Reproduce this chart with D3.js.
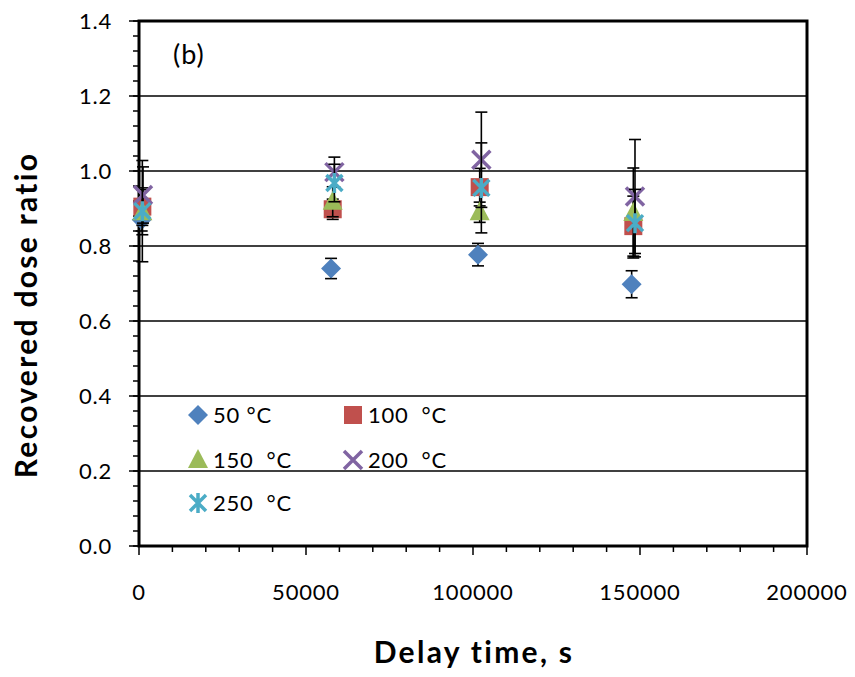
<!DOCTYPE html>
<html>
<head>
<meta charset="utf-8">
<script src="https://cdn.jsdelivr.net/npm/d3@7"></script>
<style>
  body { margin: 0; background: #fff; }
  svg { font-family: Lato, "Open Sans", sans-serif; }
</style>
</head>
<body>
<svg id="chart" width="855" height="677"></svg>
<script>
// delay times (s) per series
const times50 = [800, 57500, 101500, 147500];
const times100 = [1000, 58000, 102000, 148000];
const times150 = [1000, 58000, 102000, 148000];
const times200 = [1200, 58500, 102500, 148500];
const times250 = [1000, 58500, 102500, 148500];

// recovered dose ratios
const ratio50 = [0.87, 0.74, 0.777, 0.698];
const ratio100 = [0.905, 0.898, 0.957, 0.853];
const ratio150 = [0.89, 0.918, 0.89, 0.888];
const ratio200 = [0.936, 0.997, 1.03, 0.932];
const ratio250 = [0.893, 0.968, 0.955, 0.861];

// error bar half-widths
const err50 = [0.03, 0.027, 0.03, 0.036];
const err100 = [0.05, 0.027, 0.05, 0.08];
const err150 = [0.06, 0.04, 0.027, 0.12];
const err200 = [0.075, 0.04, 0.127, 0.152];
const err250 = [0.135, 0.05, 0.12, 0.09];

const seriesNames = ["50 \u00b0C", "100  \u00b0C", "150  \u00b0C", "200  \u00b0C", "250  \u00b0C"];
const seriesColors = ["#4F81BD", "#C0504D", "#9BBB59", "#8064A2", "#4BACC6"];
const seriesShapes = ["diamond", "square", "triangle", "x", "star"];

const xTicks = [0, 50000, 100000, 150000, 200000];
const yTicks = [0, 0.2, 0.4, 0.6, 0.8, 1.0, 1.2, 1.4];

const series = [
  { t: times50, v: ratio50, e: err50 },
  { t: times100, v: ratio100, e: err100 },
  { t: times150, v: ratio150, e: err150 },
  { t: times200, v: ratio200, e: err200 },
  { t: times250, v: ratio250, e: err250 }
].map((s, i) => ({
  name: seriesNames[i],
  color: seriesColors[i],
  shape: seriesShapes[i],
  points: s.t.map((t, j) => ({ t: t, v: s.v[j], e: s.e[j] }))
}));

const plotL = 139, plotR = 807, plotT = 21, plotB = 546;

const svg = d3.select("#chart");

const x = d3.scaleLinear().domain([0, 200000]).range([plotL, plotR]);
const y = d3.scaleLinear().domain([0, 1.4]).range([plotB, plotT]);

// gridlines
svg.append("g")
  .selectAll("line")
  .data(yTicks.filter((d) => d > 0 && d < 1.4))
  .enter()
  .append("line")
  .attr("x1", plotL)
  .attr("x2", plotR)
  .attr("y1", (d) => y(d))
  .attr("y2", (d) => y(d))
  .attr("stroke", "#000")
  .attr("stroke-width", 1.6);

// minor ticks
const yMinor = d3.range(0, 1.4001, 0.04);
svg.append("g")
  .selectAll("line")
  .data(yMinor)
  .enter()
  .append("line")
  .attr("x1", plotL - 6)
  .attr("x2", plotL)
  .attr("y1", (d) => y(d))
  .attr("y2", (d) => y(d))
  .attr("stroke", "#000")
  .attr("stroke-width", 1.5);

const xMinor = d3.range(0, 200001, 10000);
svg.append("g")
  .selectAll("line")
  .data(xMinor)
  .enter()
  .append("line")
  .attr("x1", (d) => x(d))
  .attr("x2", (d) => x(d))
  .attr("y1", plotB)
  .attr("y2", (d) => (d % 50000 === 0 ? plotB + 9 : plotB + 6))
  .attr("stroke", "#000")
  .attr("stroke-width", 1.5);

// major y ticks
svg.append("g")
  .selectAll("line")
  .data(yTicks)
  .enter()
  .append("line")
  .attr("x1", plotL - 10)
  .attr("x2", plotL)
  .attr("y1", (d) => y(d))
  .attr("y2", (d) => y(d))
  .attr("stroke", "#000")
  .attr("stroke-width", 1.5);

// plot border
svg.append("rect")
  .attr("x", plotL)
  .attr("y", plotT)
  .attr("width", plotR - plotL)
  .attr("height", plotB - plotT)
  .attr("fill", "none")
  .attr("stroke", "#000")
  .attr("stroke-width", 3);

// tick labels
svg.append("g")
  .selectAll("text")
  .data(yTicks)
  .enter()
  .append("text")
  .attr("x", 112)
  .attr("y", (d) => y(d) + 8)
  .attr("text-anchor", "end")
  .attr("font-size", 22)
  .attr("letter-spacing", 0.8)
  .text((d) => d3.format(".1f")(d));

svg.append("g")
  .selectAll("text")
  .data(xTicks)
  .enter()
  .append("text")
  .attr("x", (d) => x(d))
  .attr("y", 600)
  .attr("text-anchor", "middle")
  .attr("font-size", 22)
  .attr("letter-spacing", 0.8)
  .text((d) => d);

// axis titles
svg.append("text")
  .attr("transform", "translate(37,315) rotate(-90)")
  .attr("text-anchor", "middle")
  .attr("font-size", 30)
  .attr("font-weight", "bold")
  .attr("letter-spacing", 2.3)
  .text("Recovered dose ratio");

svg.append("text")
  .attr("x", 474)
  .attr("y", 663)
  .attr("text-anchor", "middle")
  .attr("font-size", 30)
  .attr("font-weight", "bold")
  .attr("letter-spacing", 2.3)
  .text("Delay time, s");

svg.append("text")
  .attr("x", 173)
  .attr("y", 64)
  .attr("font-size", 27)
  .attr("letter-spacing", 1)
  .text("(b)");

function drawMarker(g, shape, color, cx, cy) {
  if (shape === "diamond") {
    g.append("path")
      .attr("d", `M${cx},${cy - 10}L${cx + 10},${cy}L${cx},${cy + 10}L${cx - 10},${cy}Z`)
      .attr("fill", color);
  } else if (shape === "square") {
    g.append("rect")
      .attr("x", cx - 9).attr("y", cy - 9)
      .attr("width", 18).attr("height", 18)
      .attr("fill", color);
  } else if (shape === "triangle") {
    g.append("path")
      .attr("d", `M${cx},${cy - 11}L${cx + 10},${cy + 8}L${cx - 10},${cy + 8}Z`)
      .attr("fill", color);
  } else if (shape === "x") {
    g.append("path")
      .attr("d", `M${cx - 9},${cy - 9}L${cx + 9},${cy + 9}M${cx - 9},${cy + 9}L${cx + 9},${cy - 9}`)
      .attr("stroke", color)
      .attr("stroke-width", 3.5);
  } else {
    g.append("path")
      .attr("d", `M${cx - 8},${cy - 8}L${cx + 8},${cy + 8}M${cx - 8},${cy + 8}L${cx + 8},${cy - 8}M${cx},${cy - 10}L${cx},${cy + 10}`)
      .attr("stroke", color)
      .attr("stroke-width", 3.5);
  }
}

// error bars and markers
series.forEach((s) => {
  const g = svg.append("g");
  s.points.forEach((p) => {
    const cx = x(p.t);
    g.append("line")
      .attr("x1", cx).attr("x2", cx)
      .attr("y1", y(p.v + p.e)).attr("y2", y(p.v - p.e))
      .attr("stroke", "#000").attr("stroke-width", 1.6);
    [p.v + p.e, p.v - p.e].forEach((val) => {
      g.append("line")
        .attr("x1", cx - 6).attr("x2", cx + 6)
        .attr("y1", y(val)).attr("y2", y(val))
        .attr("stroke", "#000").attr("stroke-width", 1.6);
    });
  });
  s.points.forEach((p) => drawMarker(g, s.shape, s.color, x(p.t), y(p.v)));
});

// legend
const legendPos = [[198, 415], [353, 415], [198, 460], [353, 460], [198, 503]];
series.forEach((s, i) => {
  const g = svg.append("g");
  const [lx, ly] = legendPos[i];
  drawMarker(g, s.shape, s.color, lx, ly);
  g.append("text")
    .attr("x", lx + 15)
    .attr("y", ly + 8)
    .attr("font-size", 22)
    .attr("letter-spacing", 0.8)
    .attr("xml:space", "preserve")
    .style("white-space", "pre")
    .text(s.name);
});
</script>
</body>
</html>
